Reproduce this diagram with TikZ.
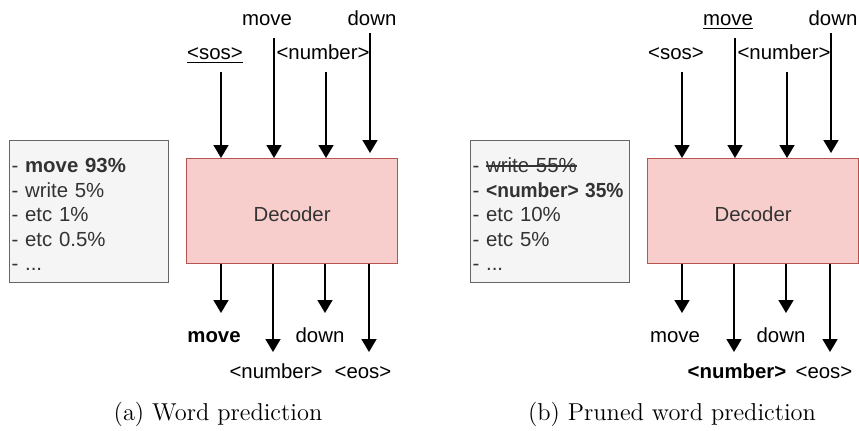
\documentclass[tikz,border=0pt]{standalone}
\usepackage{fontspec}
\usepackage{graphicx}
\usetikzlibrary{arrows.meta}
\newfontfamily\labelfont{Liberation Sans}
\definecolor{decfill}{HTML}{F8CECC}
\definecolor{decline}{HTML}{B85450}
\definecolor{listfill}{HTML}{F5F5F5}
\definecolor{listline}{HTML}{666666}
\definecolor{boxtext}{HTML}{333333}
\def\px{0.02cm}
% struck-through text
\newcommand\strk[1]{\setbox0\hbox{#1}\rlap{\rule[0.3em]{\wd0}{0.07em}}\box0}
% underlined label
\newcommand\uln[1]{\setbox0\hbox{#1}\rlap{\rule[-0.22em]{\wd0}{0.08em}}\box0}
% extra room above the first line of a list
\newcommand\topstrut{\rule{0pt}{11.7pt}}

\begin{document}
\begin{tikzpicture}[x=0.02cm,y=-0.02cm,
  sans/.style={font=\labelfont\fontsize{11.6}{13.9}\selectfont},
  lbl/.style={sans, text=black, inner sep=0pt, anchor=base},
  boldlbl/.style={lbl, font=\labelfont\bfseries\fontsize{11.6}{13.9}\selectfont},
  problist/.style={sans, draw=listline, fill=listfill, line width=0.6pt,
    text=boxtext, align=left, text width=155*\px, inner xsep=2*\px,
    minimum height=142*\px, anchor=north west},
  decoder/.style={sans, draw=decline, fill=decfill, line width=0.7pt,
    text=boxtext, minimum width=211*\px, minimum height=105*\px,
    text height=11.7pt, text depth=0pt, anchor=north west},
  arr/.style={line width=1.1pt, -{Triangle[width=8.5pt,length=7.4pt]}},
  caption/.style={font=\fontsize{13.9}{16}\selectfont, inner sep=0pt, anchor=base}]
\useasboundingbox (0,0) rectangle (859,430);

% ---------- (a) Word prediction ----------
\node[problist] (listA) at (9,140)
  {\topstrut- \textbf{move 93\%}\\- write 5\%\\- etc 1\%\\- etc 0.5\%\\- ...};
\node[decoder] (decA) at (186,158) {Decoder};

\node[lbl] (sosA) at (215,59) {\uln{<sos>}};
\node[lbl] (mvA)  at (267,25) {move};
\node[lbl] (numA) at (323,59) {<number>};
\node[lbl] (dnA)  at (372,25) {down};

\coordinate (inA1) at (221,72);
\coordinate (inA2) at (274,38);
\coordinate (inA3) at (326,72);
\coordinate (inA4) at (370,33);
\draw[arr] (inA1) -- (inA1 |- decA.north);
\draw[arr] (inA2) -- (inA2 |- decA.north);
\draw[arr] (inA3) -- (inA3 |- decA.north);
\draw[arr, shorten >=5*\px] (inA4) -- (inA4 |- decA.north);

\node[boldlbl] (mvOutA) at (214,342) {move};
\node[lbl] (dnOutA)  at (320,342) {down};
\node[lbl] (numOutA) at (276,378) {<number>};
\node[lbl] (eosA)    at (363,378) {<eos>};

\coordinate (outA1) at (221,313);
\coordinate (outA2) at (273,352);
\coordinate (outA3) at (325,313);
\coordinate (outA4) at (369,352);
\draw[arr] (outA1 |- decA.south) -- (outA1);
\draw[arr] (outA2 |- decA.south) -- (outA2);
\draw[arr] (outA3 |- decA.south) -- (outA3);
\draw[arr] (outA4 |- decA.south) -- (outA4);

\node[caption] (capA) at (218,420) {(a) Word prediction};

% ---------- (b) Pruned word prediction ----------
\node[problist] (listB) at (470,140)
  {\topstrut- \strk{write 55\%}\\
   - \scalebox{0.94}[1]{\textbf{<number> 35\%}}\\
   - etc 10\%\\- etc 5\%\\- ...};
\node[decoder] (decB) at (647,158) {Decoder};

\node[lbl] (sosB) at (676,59) {<sos>};
\node[lbl] (mvB)  at (728,25) {\uln{move}};
\node[lbl] (numB) at (784,59) {<number>};
\node[lbl] (dnB)  at (833,25) {down};

\coordinate (inB1) at (682,72);
\coordinate (inB2) at (735,38);
\coordinate (inB3) at (787,72);
\coordinate (inB4) at (831,33);
\draw[arr] (inB1) -- (inB1 |- decB.north);
\draw[arr] (inB2) -- (inB2 |- decB.north);
\draw[arr] (inB3) -- (inB3 |- decB.north);
\draw[arr, shorten >=5*\px] (inB4) -- (inB4 |- decB.north);

\node[lbl] (mvOutB)  at (675,342) {move};
\node[lbl] (dnOutB)  at (781,342) {down};
\node[boldlbl] (numOutB) at (737,378) {<number>};
\node[lbl] (eosB)    at (824,378) {<eos>};

\coordinate (outB1) at (682,313);
\coordinate (outB2) at (734,352);
\coordinate (outB3) at (786,313);
\coordinate (outB4) at (830,352);
\draw[arr] (outB1 |- decB.south) -- (outB1);
\draw[arr] (outB2 |- decB.south) -- (outB2);
\draw[arr] (outB3 |- decB.south) -- (outB3);
\draw[arr] (outB4 |- decB.south) -- (outB4);

\node[caption] (capB) at (672,420) {(b) Pruned word prediction};
\end{tikzpicture}
\end{document}
